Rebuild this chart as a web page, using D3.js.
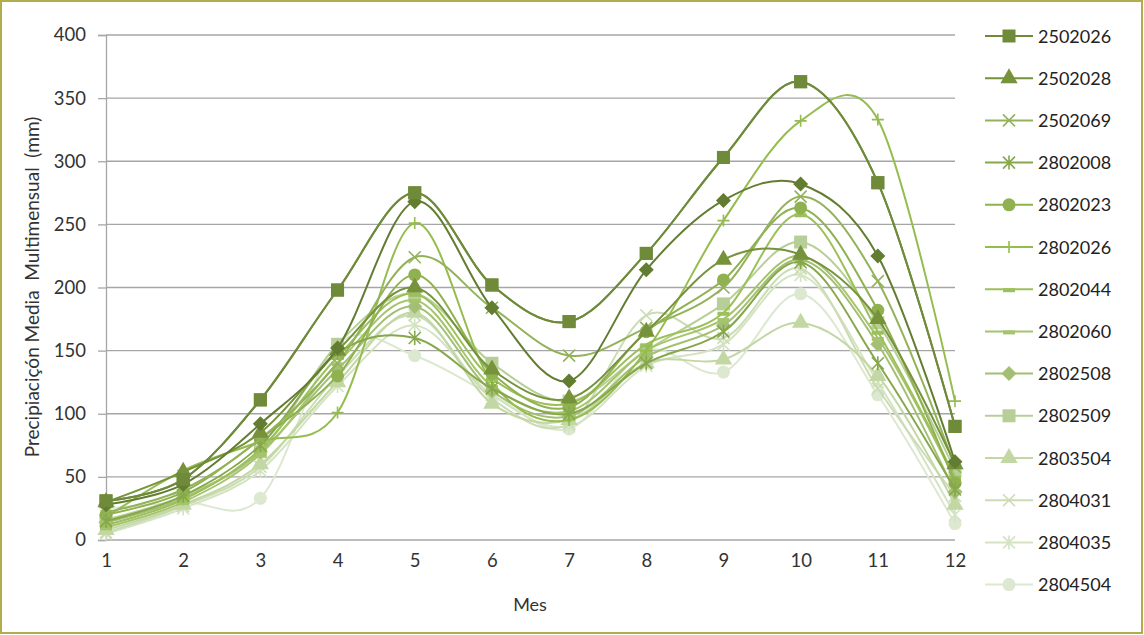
<!DOCTYPE html>
<html><head><meta charset="utf-8">
<script src="https://cdn.jsdelivr.net/npm/d3@7"></script>
<style>body{margin:0;background:#fff}svg{display:block;font-family:Lato,"Open Sans",sans-serif}</style>
</head><body><svg id="c" width="1144" height="635"></svg>
<script>
const months = [1,2,3,4,5,6,7,8,9,10,11,12];
const yTicks = [0,50,100,150,200,250,300,350,400];
const seriesNames = ["2502026","2502028","2502069","2802008","2802023","2802026","2802044","2802060","2802508","2802509","2803504","2804031","2804035","2804504"];
const seriesMarkers = ["square","triangle","x","asterisk","circle","plus","dash","dash","diamond","square","triangle","x","asterisk","circle"];
const seriesColors = ["#6f8b3a","#76933c","#93b35a","#86a84b","#8fb150","#95bc4e","#9cc05a","#a5c46c","#a3bf74","#b7cf96","#c2d7a3","#cbdcb5","#d4e3c2","#dce8d0"];
const s2502026 = [31,48,111,198,275,202,173,227,303,363,283,90];
const s2502028 = [30,54,85,150,200,135,112,165,222,226,175,60];
const s2502069 = [22,40,80,140,224,184,146,168,200,272,205,58];
const s2802008 = [15,35,75,148,160,120,100,140,165,220,140,40];
const s2802023 = [20,38,80,130,210,132,105,165,206,263,182,45];
const s2802026 = [18,55,78,101,251,125,95,150,253,332,333,110];
const s2802044 = [12,32,72,145,195,128,108,155,180,258,165,50];
const s2802060 = [10,30,68,140,190,122,102,150,175,225,160,48];
const s2802508 = [14,33,70,135,185,118,98,145,170,222,155,38];
const s2802509 = [16,35,70,155,195,140,110,150,187,236,172,55];
const s2803504 = [8,28,60,125,180,108,95,140,143,172,130,28];
const s2804031 = [6,27,58,130,178,112,92,178,160,215,120,35];
const s2804035 = [5,25,55,122,170,115,90,138,155,210,125,20];
const s2804504 = [25,30,33,155,146,115,88,150,133,195,115,13];
// additional station drawn in the plot but not listed in the legend
const sExtra = [28,44,92,152,268,184,126,214,269,282,225,62];
const extraColor = "#627d31";
const seriesValues = [s2502026,s2502028,s2502069,s2802008,s2802023,s2802026,s2802044,s2802060,s2802508,s2802509,s2803504,s2804031,s2804035,s2804504];

const svg = d3.select("#c");
svg.append("rect").attr("x",1).attr("y",1).attr("width",1141).attr("height",632)
  .attr("fill","#fff").attr("stroke","#b0ad4c").attr("stroke-width",2);

const x = d3.scaleLinear().domain([1,12]).range([106,955]);
const y = d3.scaleLinear().domain([0,400]).range([540,35]);

svg.append("g").selectAll("line").data(yTicks).join("line")
  .attr("x1",106).attr("x2",955).attr("y1",d=>y(d)).attr("y2",d=>y(d))
  .attr("stroke","#a6a6a6").attr("stroke-width",1.3);

const ya = svg.append("g").attr("transform","translate(106,0)")
  .call(d3.axisLeft(y).tickValues(yTicks).tickSize(8).tickPadding(12));
ya.select(".domain").attr("stroke","#a6a6a6").attr("stroke-width",1.3);
ya.selectAll(".tick line").attr("stroke","#a6a6a6").attr("stroke-width",1.3);
ya.selectAll("text").attr("font-size",18.5).attr("fill","#333").attr("font-family","Lato");

const xa = svg.append("g").attr("transform","translate(0,540)")
  .call(d3.axisBottom(x).tickValues(months).tickSize(0).tickPadding(14).tickFormat(d3.format("d")));
xa.select(".domain").remove();
xa.selectAll("text").attr("font-size",18.5).attr("fill","#333").attr("font-family","Lato");

svg.append("text").attr("x",530).attr("y",611).attr("text-anchor","middle")
  .attr("font-size",18).attr("fill","#333").text("Mes");
svg.append("text").attr("transform","translate(39,287) rotate(-90)").attr("text-anchor","middle")
  .style("white-space","pre").attr("font-size",19).attr("fill","#333")
  .text("Precipiaciçón Media  Multimensual  (mm)");

const line = d3.line().x((d,i)=>x(months[i])).y(d=>y(d)).curve(d3.curveCardinal.tension(0));

function marker(g, type, color, cx, cy){
  const sw = 1.6;
  if(type==="square") g.append("rect").attr("x",cx-6.5).attr("y",cy-6.5).attr("width",13).attr("height",13).attr("fill",color);
  else if(type==="triangle") g.append("path").attr("d",d3.symbol(d3.symbolTriangle,130)()).attr("transform",`translate(${cx},${cy})`).attr("fill",color);
  else if(type==="circle") g.append("circle").attr("cx",cx).attr("cy",cy).attr("r",6.5).attr("fill",color);
  else if(type==="diamond") g.append("path").attr("d",`M${cx},${cy-7.5}L${cx+7.5},${cy}L${cx},${cy+7.5}L${cx-7.5},${cy}Z`).attr("fill",color);
  else if(type==="dash") g.append("rect").attr("x",cx-6).attr("y",cy-1).attr("width",12).attr("height",4).attr("fill",color);
  else {
    const r = 6;
    let d = "";
    if(type==="x"||type==="asterisk") d += `M${cx-r},${cy-r}L${cx+r},${cy+r}M${cx-r},${cy+r}L${cx+r},${cy-r}`;
    if(type==="asterisk") d += `M${cx},${cy-r-1}L${cx},${cy+r+1}`;
    if(type==="plus") d += `M${cx},${cy-r}L${cx},${cy+r}M${cx-r},${cy}L${cx+r},${cy}`;
    g.append("path").attr("d",d).attr("stroke",color).attr("stroke-width",sw).attr("fill","none");
  }
}

const plot = svg.append("g");
const order = d3.range(seriesNames.length).reverse();
order.forEach(i=>{
  const g = plot.append("g");
  g.append("path").attr("d",line(seriesValues[i])).attr("fill","none")
    .attr("stroke",seriesColors[i]).attr("stroke-width",2);
  seriesValues[i].forEach((v,j)=>marker(g,seriesMarkers[i],seriesColors[i],x(months[j]),y(v)));
});
{
  const g = plot.append("g");
  g.append("path").attr("d",line(sExtra)).attr("fill","none").attr("stroke",extraColor).attr("stroke-width",2);
  sExtra.forEach((v,j)=>marker(g,"diamond",extraColor,x(months[j]),y(v)));
}
{
  const g = plot.append("g");
  g.append("path").attr("d",line(s2502026)).attr("fill","none").attr("stroke",seriesColors[0]).attr("stroke-width",2);
  s2502026.forEach((v,j)=>marker(g,"square",seriesColors[0],x(months[j]),y(v)));
}

const lg = svg.append("g");
seriesNames.forEach((n,i)=>{
  const ly = 36 + i*42.2;
  const g = lg.append("g");
  g.append("line").attr("x1",985).attr("x2",1033).attr("y1",ly).attr("y2",ly)
    .attr("stroke",seriesColors[i]).attr("stroke-width",2);
  marker(g, seriesMarkers[i], seriesColors[i], 1009, ly);
  g.append("text").attr("x",1038).attr("y",ly+6.5).attr("font-size",18).attr("fill","#222").text(n);
});
</script></body></html>
